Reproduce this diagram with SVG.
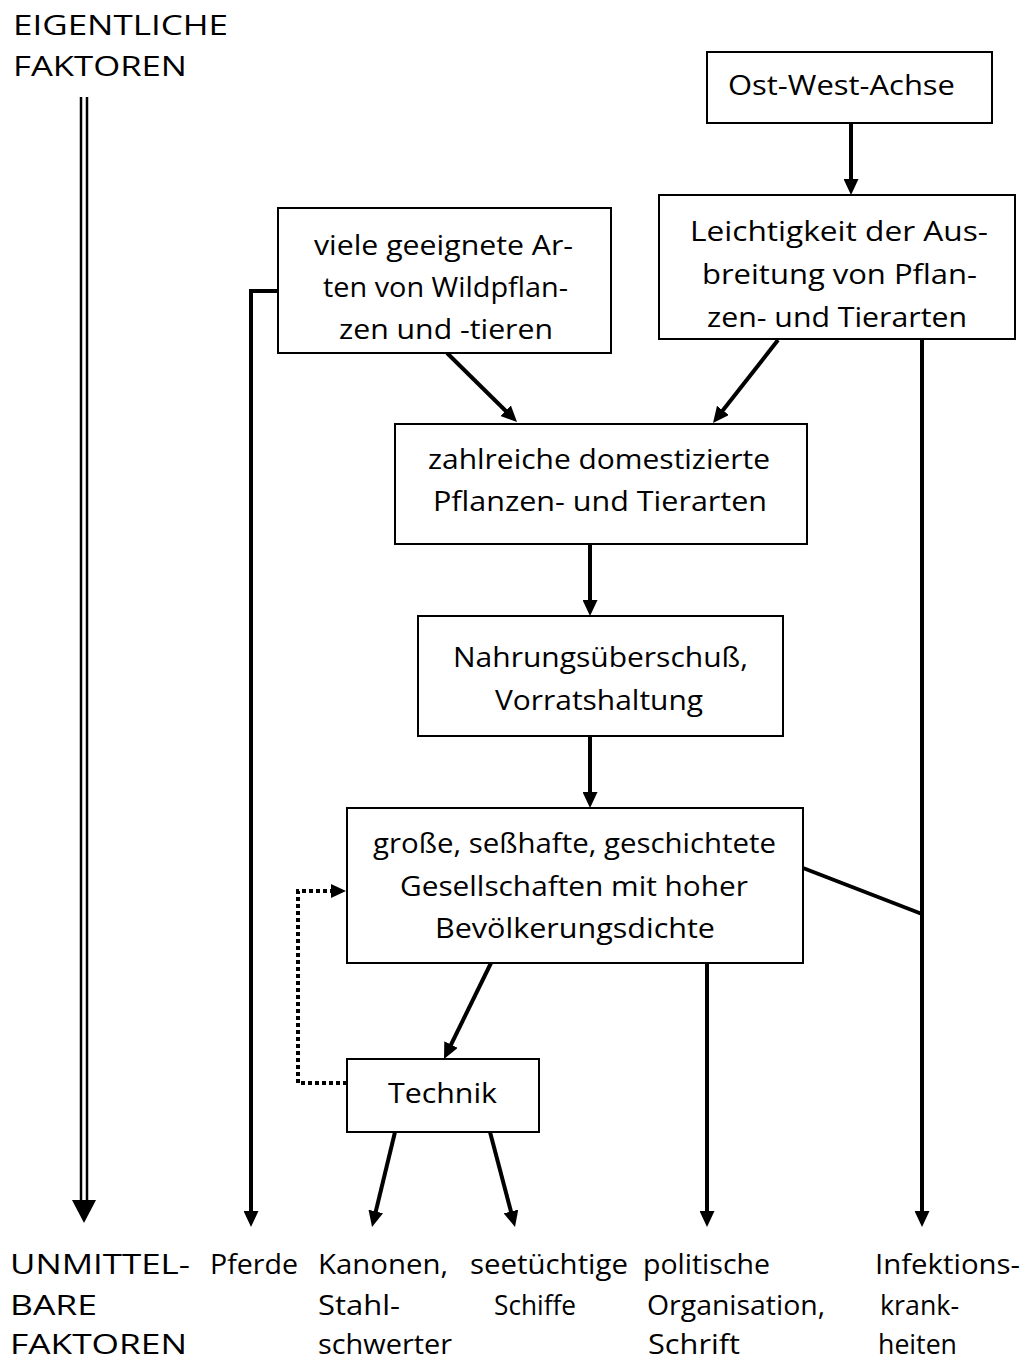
<svg xmlns="http://www.w3.org/2000/svg" width="1025" height="1361" viewBox="0 0 1025 1361">
<style>
.box{fill:#fff;stroke:#000;stroke-width:2}
.t{font-family:"Open Sans","Liberation Sans",sans-serif;font-size:28px;fill:#000}
.c{fill:none;stroke:#000;stroke-width:4}
.d{fill:none;stroke:#000;stroke-width:4;stroke-dasharray:4 3}
.dl{fill:none;stroke:#000;stroke-width:2.5}
</style>
<defs>
<marker id="ah" viewBox="0 0 16 15" markerWidth="16" markerHeight="15" refX="6" refY="7.5" orient="auto" markerUnits="userSpaceOnUse"><path d="M0,0 L16,7.5 L0,15 z" fill="#000"/></marker>
<marker id="ahd" viewBox="0 0 15 14" markerWidth="15" markerHeight="14" refX="0" refY="7" orient="auto" markerUnits="userSpaceOnUse"><path d="M0,0 L15,7 L0,14 z" fill="#000"/></marker>
</defs>

<g id="labels-top">
<text class="t" x="13" y="35" textLength="215" lengthAdjust="spacingAndGlyphs">EIGENTLICHE</text>
<text class="t" x="13" y="76" textLength="174" lengthAdjust="spacingAndGlyphs">FAKTOREN</text>
</g>

<g id="connectors">
<line class="dl" x1="81" y1="97" x2="81" y2="1201"/>
<line class="dl" x1="87" y1="97" x2="87" y2="1201"/>
<polygon points="72,1200 96,1200 84,1223" fill="#000"/>
<line class="c" x1="851" y1="123" x2="851" y2="185" marker-end="url(#ah)"/>
<line class="c" x1="447" y1="353" x2="509.9" y2="415" marker-end="url(#ah)"/>
<line class="c" x1="778" y1="340" x2="719.2" y2="415.1" marker-end="url(#ah)"/>
<line class="c" x1="590" y1="544" x2="590" y2="606" marker-end="url(#ah)"/>
<line class="c" x1="590" y1="736" x2="590" y2="798" marker-end="url(#ah)"/>
<line class="c" x1="491" y1="963" x2="448.4" y2="1050" marker-end="url(#ah)"/>
<line class="c" x1="395" y1="1132" x2="374.4" y2="1217.3" marker-end="url(#ah)"/>
<line class="c" x1="490" y1="1132" x2="512.5" y2="1217.3" marker-end="url(#ah)"/>
<line class="c" x1="707" y1="963" x2="707" y2="1217" marker-end="url(#ah)"/>
<line class="c" x1="922" y1="339" x2="922" y2="1217" marker-end="url(#ah)"/>
<line class="c" x1="803" y1="868" x2="922" y2="914"/>
<polyline class="c" points="278,291 251,291 251,1217" marker-end="url(#ah)"/>
<polyline class="d" points="347,1083 298,1083 298,891 331,891" marker-end="url(#ahd)"/>
</g>

<g id="n-ostwest">
<rect class="box" x="707" y="52" width="285" height="71"/>
<text class="t" x="728" y="95" textLength="227" lengthAdjust="spacingAndGlyphs">Ost-West-Achse</text>
</g>

<g id="n-leichtigkeit">
<rect class="box" x="659" y="195" width="356" height="144"/>
<text class="t" x="690" y="241" textLength="298" lengthAdjust="spacingAndGlyphs">Leichtigkeit der Aus-</text>
<text class="t" x="702" y="284" textLength="275" lengthAdjust="spacingAndGlyphs">breitung von Pflan-</text>
<text class="t" x="707" y="327" textLength="260" lengthAdjust="spacingAndGlyphs">zen- und Tierarten</text>
</g>

<g id="n-viele">
<rect class="box" x="278" y="208" width="333" height="145"/>
<text class="t" x="314" y="255" textLength="259" lengthAdjust="spacingAndGlyphs">viele geeignete Ar-</text>
<text class="t" x="323" y="297" textLength="245" lengthAdjust="spacingAndGlyphs">ten von Wildpflan-</text>
<text class="t" x="339" y="339" textLength="214" lengthAdjust="spacingAndGlyphs">zen und -tieren</text>
</g>

<g id="n-zahlreiche">
<rect class="box" x="395" y="424" width="412" height="120"/>
<text class="t" x="428" y="469" textLength="342" lengthAdjust="spacingAndGlyphs">zahlreiche domestizierte</text>
<text class="t" x="433" y="511" textLength="334" lengthAdjust="spacingAndGlyphs">Pflanzen- und Tierarten</text>
</g>

<g id="n-nahrung">
<rect class="box" x="418" y="616" width="365" height="120"/>
<text class="t" x="453" y="667" textLength="295" lengthAdjust="spacingAndGlyphs">Nahrungsüberschuß,</text>
<text class="t" x="495" y="710" textLength="208" lengthAdjust="spacingAndGlyphs">Vorratshaltung</text>
</g>

<g id="n-gesellschaften">
<rect class="box" x="347" y="808" width="456" height="155"/>
<text class="t" x="373" y="853" textLength="403" lengthAdjust="spacingAndGlyphs">große, seßhafte, geschichtete</text>
<text class="t" x="400" y="896" textLength="348" lengthAdjust="spacingAndGlyphs">Gesellschaften mit hoher</text>
<text class="t" x="435" y="938" textLength="280" lengthAdjust="spacingAndGlyphs">Bevölkerungsdichte</text>
</g>

<g id="n-technik">
<rect class="box" x="347" y="1059" width="192" height="73"/>
<text class="t" x="388" y="1103" textLength="109" lengthAdjust="spacingAndGlyphs">Technik</text>
</g>

<g id="labels-bottom">
<text class="t" x="10" y="1274" textLength="180" lengthAdjust="spacingAndGlyphs">UNMITTEL-</text>
<text class="t" x="10" y="1315" textLength="87" lengthAdjust="spacingAndGlyphs">BARE</text>
<text class="t" x="10" y="1354" textLength="177" lengthAdjust="spacingAndGlyphs">FAKTOREN</text>
<text class="t" x="210" y="1274" textLength="88" lengthAdjust="spacingAndGlyphs">Pferde</text>
<text class="t" x="318" y="1274" textLength="130" lengthAdjust="spacingAndGlyphs">Kanonen,</text>
<text class="t" x="318" y="1315" textLength="82" lengthAdjust="spacingAndGlyphs">Stahl-</text>
<text class="t" x="318" y="1354" textLength="134" lengthAdjust="spacingAndGlyphs">schwerter</text>
<text class="t" x="470" y="1274" textLength="158" lengthAdjust="spacingAndGlyphs">seetüchtige</text>
<text class="t" x="494" y="1315" textLength="82" lengthAdjust="spacingAndGlyphs">Schiffe</text>
<text class="t" x="643" y="1274" textLength="127" lengthAdjust="spacingAndGlyphs">politische</text>
<text class="t" x="647" y="1315" textLength="178" lengthAdjust="spacingAndGlyphs">Organisation,</text>
<text class="t" x="648" y="1354" textLength="92" lengthAdjust="spacingAndGlyphs">Schrift</text>
<text class="t" x="875" y="1274" textLength="145" lengthAdjust="spacingAndGlyphs">Infektions-</text>
<text class="t" x="880" y="1315" textLength="79" lengthAdjust="spacingAndGlyphs">krank-</text>
<text class="t" x="878" y="1354" textLength="79" lengthAdjust="spacingAndGlyphs">heiten</text>
</g>
</svg>
